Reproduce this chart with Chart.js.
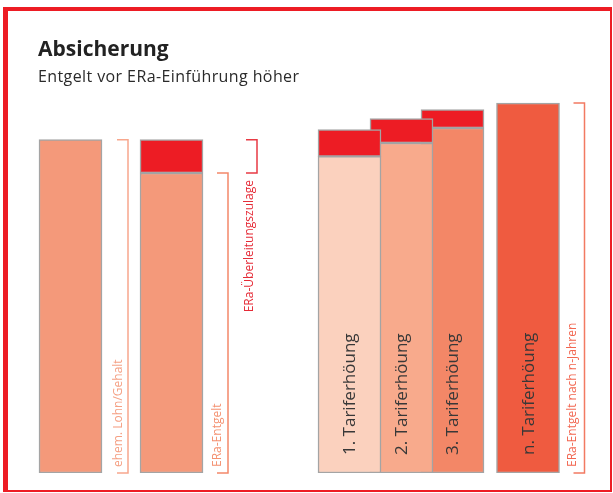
<!DOCTYPE html>
<html>
<head>
<meta charset="utf-8">
<script src="https://cdn.jsdelivr.net/npm/chart.js"></script>
<style>
  body { margin: 0; background: #fff; }
  #box { position: relative; width: 613px; height: 493px; overflow: hidden; }
  #frame {
    position: absolute; left: 3px; top: 7px; width: 609px; height: 485px;
    box-sizing: border-box; border-style: solid; border-color: #ed1c24;
    border-width: 4px 2px 2px 5px;
  }
  .txt { position: absolute; left: 38px; font-family: "Open Sans", sans-serif; color: #222; white-space: nowrap; }
  #title { top: 37px; font-size: 21px; font-weight: bold; line-height: 22px; }
  #subtitle { top: 68px; font-size: 16px; line-height: 16px; letter-spacing: 0.4px; color: #2a2a2a; }
  #wrap { position: absolute; left: 0; top: 0; width: 613px; height: 493px; }
</style>
</head>
<body>
<div id="box">
  <div id="wrap"><canvas id="myChart"></canvas></div>
  <div id="frame"></div>
  <div class="txt" id="title">Absicherung</div>
  <div class="txt" id="subtitle">Entgelt vor ERa-Einführung höher</div>
</div>
<script>
// data
const columns = ["ehem. Lohn/Gehalt", "ERa-Entgelt", "1. Tariferhöung", "2. Tariferhöung", "3. Tariferhöung", "n. Tariferhöung"];
const entgelt = [100, 90, 95, 99, 103.5, 111];
const zulage = [0, 10, 8, 7.3, 5.5, 0];
const barLabels = ["", "", "1. Tariferhöung", "2. Tariferhöung", "3. Tariferhöung", "n. Tariferhöung"];
const bracketLabels = ["ehem. Lohn/Gehalt", "ERa-Entgelt", "ERa-Überleitungszulage", "ERa-Entgelt nach n-Jahren"];

// layout / style
const slotX = [70.5, 171.5, 349.5, 401.5, 452.5, 528];
const baseColors = ["#f4997a", "#f4997a", "#fbd1be", "#f8aa8c", "#f38767", "#ef5b40"];
const topColor = "#ed1c24";

const datasets = columns.map((name, i) => {
  const pts = [{ x: slotX[i], y: [0, entgelt[i]] }];
  const colors = [baseColors[i]];
  if (zulage[i] > 0) {
    pts.push({ x: slotX[i], y: [entgelt[i], entgelt[i] + zulage[i]] });
    colors.push(topColor);
  }
  return {
    label: name,
    data: pts,
    backgroundColor: colors,
    borderColor: "#a4a4a4",
    borderWidth: 1.5,
    borderSkipped: false,
    barThickness: 63,
    grouped: false,
  };
});

// brackets beside the bars
const brackets = [
  { col: 0, from: 0, to: entgelt[0], text: bracketLabels[0], gap: 26, tx: 9, line: "#f7a78d", color: "#f5a084", at: "bottom" },
  { col: 1, from: 0, to: entgelt[1], text: bracketLabels[1], gap: 25, tx: 10, line: "#f4886a", color: "#f4906f", at: "bottom" },
  { col: 1, from: entgelt[1], to: entgelt[1] + zulage[1], text: bracketLabels[2], gap: 54, tx: 7, line: "#e83a44", color: "#e52a36", at: "below" },
  { col: 5, from: 0, to: entgelt[5], text: bracketLabels[3], gap: 25, tx: 12, line: "#f27a62", color: "#f26650", at: "bottom" },
];

const labelsPlugin = {
  id: "labels",
  afterDatasetsDraw(chart) {
    const ctx = chart.ctx;
    const y = chart.scales.y;
    const zero = y.getPixelForValue(0);

    // texts inside bars
    barLabels.forEach((t, i) => {
      if (!t) return;
      const bar = chart.getDatasetMeta(i).data[0];
      ctx.save();
      ctx.translate(bar.x, zero - 18);
      ctx.rotate(-Math.PI / 2);
      ctx.font = "17px 'Open Sans'";
      ctx.fillStyle = "#383838";
      ctx.textAlign = "left";
      ctx.textBaseline = "middle";
      ctx.fillText(t, 0, 1);
      ctx.restore();
    });

    brackets.forEach((b) => {
      const bar = chart.getDatasetMeta(b.col).data[0];
      const bx = bar.x + bar.width / 2 + b.gap;
      const y0 = y.getPixelForValue(b.from);
      const y1 = y.getPixelForValue(b.to);
      ctx.save();
      ctx.strokeStyle = b.line;
      ctx.lineWidth = 1.5;
      ctx.beginPath();
      ctx.moveTo(bx - 11, y1);
      ctx.lineTo(bx, y1);
      ctx.lineTo(bx, y0);
      ctx.lineTo(bx - 11, y0);
      ctx.stroke();

      ctx.font = "12px 'Open Sans'";
      ctx.fillStyle = b.color;
      ctx.textBaseline = "middle";
      if (b.at === "bottom") {
        ctx.translate(bx - b.tx, y0 - 6);
        ctx.textAlign = "left";
      } else {
        // label hangs below the bracket
        ctx.translate(bx - b.tx, y0 + 7);
        ctx.textAlign = "right";
      }
      ctx.rotate(-Math.PI / 2);
      ctx.fillText(b.text, 0, 0);
      ctx.restore();
    });
  },
};

const config = {
  type: "bar",
  data: { datasets },
  options: {
    responsive: true,
    maintainAspectRatio: false,
    animation: false,
    layout: { padding: { top: 73, bottom: 20, left: 0, right: 0 } },
    scales: {
      x: { type: "linear", min: 0, max: 613, offset: false, display: false },
      y: { min: 0, max: 120, display: false },
    },
    plugins: {
      legend: { display: false },
      tooltip: { enabled: false },
    },
  },
  plugins: [labelsPlugin],
};

const myChart = new Chart(document.getElementById("myChart"), config);
</script>
</body>
</html>
